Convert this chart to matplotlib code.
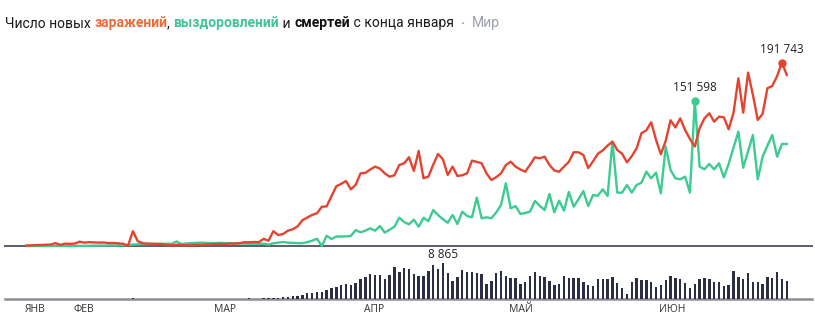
import numpy as np
import pandas as pd
import matplotlib
matplotlib.use('Agg')
import matplotlib.pyplot as plt
import matplotlib.dates as mdates
from matplotlib.transforms import blended_transform_factory

start_date = '2020-01-22'

cases = [
    500, 700, 900, 1000, 1300, 1500, 3000, 1200, 2500, 2200,
    2500, 4500, 3500, 4000, 3800, 3500, 3700, 3000, 3200, 2800,
    2300, 500, 15500, 5000, 3000, 2500, 2300, 2200, 2000, 1000,
    800, 1100, 1000, 700, 800, 1100, 1200, 1500, 1800, 2000,
    2100, 2000, 2500, 2400, 2900, 3900, 3900, 4200, 4000, 7500,
    5500, 15500, 11500, 12500, 16000, 17500, 20500, 27000, 29800, 32500,
    34200, 41000, 41500, 52000, 62500, 65000, 68000, 59300, 64000, 76000,
    76500, 80000, 83000, 81000, 76000, 72500, 74000, 84700, 86500, 92800,
    78500, 99400, 70800, 72500, 85000, 96200, 90700, 74300, 83000, 73200,
    74000, 76000, 89300, 88000, 86500, 76000, 69000, 72000, 76000, 84700,
    88200, 83000, 80000, 77700, 85000, 92800, 91700, 93400, 84700, 79000,
    77700, 83000, 88000, 98000, 98000, 95200, 81500, 88500, 96500, 100000,
    105000, 109100, 100400, 96500, 87500, 94000, 102200, 118000, 121000, 129400,
    111000, 96000, 110000, 131500, 124000, 133500, 121300, 112000, 104000, 123100,
    133500, 138800, 130000, 135300, 134600, 122000, 139400, 175400, 139400, 181300,
    158000, 131800, 138100, 165000, 167400, 177800, 191743, 178900,
]

recovered = [
    0, 0, 0, 0, 0, 10, 40, 20, 20, 80,
    60, 190, 150, 230, 280, 370, 430, 570, 590, 700,
    790, 1200, 1500, 1800, 1900, 2000, 2000, 2100, 2300, 2400,
    2200, 4700, 2000, 2700, 3000, 3200, 3500, 3300, 3000, 3200,
    3300, 3000, 3000, 2800, 2600, 2500, 2500, 2400, 2300, 2300,
    1500, 2800, 3500, 4200, 3500, 3200, 3000, 3000, 4000, 5500,
    7600, 0, 10700, 7300, 9900, 10000, 10000, 10500, 16700, 14300,
    16000, 18500, 16000, 20900, 14000, 17000, 20200, 29600, 25000, 22700,
    27500, 20200, 29500, 26000, 37600, 32400, 28000, 24300, 32400, 23000,
    35900, 31300, 30000, 50500, 29000, 30000, 29000, 35000, 42900, 65600,
    39400, 41800, 33500, 34500, 36000, 47100, 42000, 37600, 54400, 35200,
    47400, 37000, 56500, 41100, 49000, 57500, 41800, 53300, 52600, 59300,
    52300, 109100, 55800, 55800, 63800, 55800, 63800, 66200, 77700, 70800,
    76700, 55100, 103900, 79500, 70800, 69800, 72500, 55800, 151598, 83000,
    80200, 85800, 80200, 86500, 71800, 86000, 103000, 119500, 81900, 99000,
    116100, 69800, 93400, 105000, 116100, 93400, 106700, 106700,
]

deaths = [
    20, 10, 20, 20, 30, 50, 30, 40, 40, 50,
    60, 60, 70, 70, 70, 90, 90, 100, 110, 100,
    110, 120, 250, 140, 140, 100, 100, 100, 140, 120,
    120, 110, 100, 150, 70, 50, 60, 60, 60, 60,
    70, 80, 80, 100, 100, 100, 200, 160, 160, 240,
    240, 400, 400, 560, 650, 810, 890, 1050, 1450, 1610,
    1690, 1690, 2180, 2660, 2900, 3470, 3630, 3390, 4030, 4840,
    5490, 6130, 5890, 5810, 4840, 5890, 7910, 6700, 7510, 7260,
    6050, 5730, 5730, 6860, 8230, 7260, 8865, 6300, 4520, 5330,
    7020, 6620, 6620, 6300, 6130, 3710, 4520, 6300, 6860, 5730,
    5160, 5160, 3670, 4120, 5650, 6540, 5650, 5330, 4440, 3470,
    3710, 5650, 5250, 5250, 5080, 4120, 3470, 3310, 4840, 4840,
    4840, 5330, 3870, 2820, 1210, 4200, 5080, 4680, 4680, 4120,
    2910, 3550, 4680, 5650, 5160, 4840, 3870, 2820, 3710, 4840,
    5160, 4840, 4280, 4280, 3310, 3550, 6780, 5330, 5000, 6300,
    4200, 4120, 3630, 5410, 5160, 6540, 4920, 4520,
]

month_labels = ['ЯНВ', 'ФЕВ', 'МАР', 'АПР', 'МАЙ', 'ИЮН']
month_dates = ['2020-01-22', '2020-02-01', '2020-03-01', '2020-04-01', '2020-05-01', '2020-06-01']

title_parts = [
    ('Число новых ', '#1a1a1a', 'normal'),
    ('заражений', '#f06a38', 'bold'),
    (', ', '#1a1a1a', 'normal'),
    ('выздоровлений', '#3ec695', 'bold'),
    (' и ', '#1a1a1a', 'normal'),
    ('смертей', '#111111', 'bold'),
    (' с конца января', '#1a1a1a', 'normal'),
    ('  ·  ', '#a0a4ad', 'bold'),
    ('Мир', '#9aa0ab', 'normal'),
]

RED = '#e4442f'
GREEN = '#3ccb92'
BAR = '#2b2d44'

dates = pd.date_range(start_date, periods=len(cases), freq='D')
xd = mdates.date2num(dates)
x0 = xd[0]

W, H = 815, 319
fig = plt.figure(figsize=(W / 100, H / 100), dpi=100)
fig.patch.set_facecolor('white')


def fx(px):
    return px / W


def fy(py):
    return 1 - py / H


ax = fig.add_axes([fx(5), fy(246), fx(807), (246 - 45.2) / H])
axb = fig.add_axes([fx(5), fy(299.3), fx(807), (299.3 - 250) / H])

xlim = (x0 - 4.4, x0 + 162.2)
for a in (ax, axb):
    a.set_xlim(*xlim)
    for s in a.spines.values():
        s.set_visible(False)
    a.set_xticks([])
    a.set_yticks([])
    a.patch.set_alpha(0)

ax.set_ylim(0, 210000)
axb.set_ylim(0, 11930)

ax.axhline(0, color='#5b5c66', lw=1.4, zorder=1, clip_on=False)
ax.plot(xd, cases, color=RED, lw=1.7, zorder=3, clip_on=False, solid_joinstyle='round')
ax.plot(xd, recovered, color=GREEN, lw=1.7, zorder=2, clip_on=False, solid_joinstyle='round')

imax_c = int(np.argmax(cases))
imax_r = int(np.argmax(recovered))
ax.plot([xd[imax_c]], [cases[imax_c]], 'o', color=RED, ms=5, zorder=4, clip_on=False)
ax.plot([xd[imax_r]], [recovered[imax_r]], 'o', color=GREEN, ms=5, zorder=4, clip_on=False)


def fmt(v):
    return f'{int(v):,}'.replace(',', ' ')


ax.annotate(fmt(cases[imax_c]), (xd[imax_c], cases[imax_c]), xytext=(0, 5),
            textcoords='offset points', ha='center', va='bottom', fontsize=8.5,
            color='#222222', family='Open Sans')
ax.annotate(fmt(recovered[imax_r]), (xd[imax_r], recovered[imax_r]), xytext=(0, 5),
            textcoords='offset points', ha='center', va='bottom', fontsize=8.5,
            color='#222222', family='Open Sans')

axb.axhline(0, color='#8d8d93', lw=1.8, zorder=1, clip_on=False)
axb.bar(xd, deaths, width=0.5, color=BAR, zorder=2, linewidth=0)
imax_d = int(np.argmax(deaths))
axb.annotate(fmt(deaths[imax_d]), (xd[imax_d], deaths[imax_d]), xytext=(0, 1.5),
             textcoords='offset points', ha='center', va='bottom', fontsize=8.5,
             color='#222222', family='Open Sans')

trans = blended_transform_factory(axb.transData, fig.transFigure)
for lab, d in zip(month_labels, month_dates):
    xm = mdates.date2num(pd.Timestamp(d)) - 0.3
    fig.text(xm, fy(310), lab, transform=trans, ha='left', va='center', fontsize=7.5,
             color='#333333', family='Open Sans')

# Title made of coloured parts
renderer = fig.canvas.get_renderer()
xpix = 5.0
ybase = fy(27.5)
for txt, col, wt in title_parts:
    t = fig.text(fx(xpix), ybase, txt, color=col, fontweight=wt, fontsize=10.0,
                 family='Roboto', ha='left', va='baseline')
    bb = t.get_window_extent(renderer=renderer)
    xpix += bb.width

fig.savefig('out.png', dpi=100)
